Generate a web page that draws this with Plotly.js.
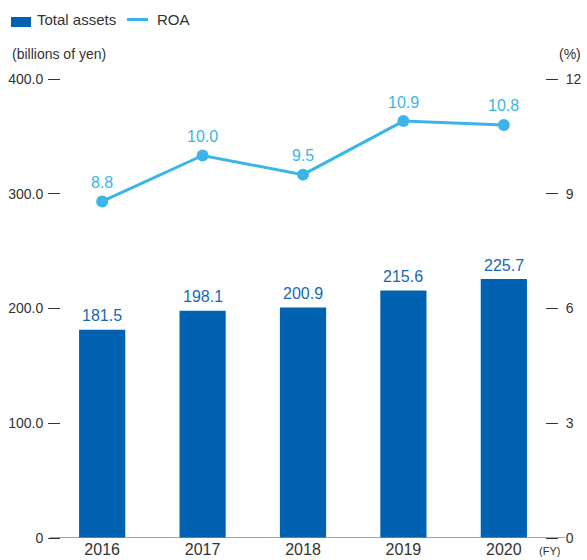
<!DOCTYPE html>
<html><head><meta charset="utf-8">
<script src="https://cdn.plot.ly/plotly-3.0.1.min.js"></script>
<style>body{margin:0;padding:0;background:#fff}#chart{width:587px;height:560px}</style>
</head><body><div id="chart"></div>
<script>
const years = ['2016','2017','2018','2019','2020'];
const totalAssets = [181.5, 198.1, 200.9, 215.6, 225.7];
const roa = [8.8, 10.0, 9.5, 10.9, 10.8];
const leftTicks = [0, 100, 200, 300, 400];
const leftTickText = ['0', '100.0', '200.0', '300.0', '400.0'];
const rightTicks = [0, 3, 6, 9, 12];
const seriesNames = ['Total assets', 'ROA'];

const barColor = '#0062b1';
const lineColor = '#3bb5e8';
const font = 'Liberation Sans, Arial, sans-serif';

const traces = [
  {type:'bar', name:seriesNames[0], x: years, y: totalAssets, marker:{color:barColor}, width:0.46, yaxis:'y', hoverinfo:'none'},
  {type:'scatter', mode:'lines+markers', name:seriesNames[1], x: years, y: roa, yaxis:'y2',
   line:{color:lineColor, width:3}, marker:{color:lineColor, size:12}, hoverinfo:'none'}
];

const annotations = [];
years.forEach((yr,i)=>{
  annotations.push({x:i, y:totalAssets[i], xref:'x', yref:'y', text:totalAssets[i].toFixed(1), showarrow:false,
    yanchor:'middle', yshift:14, font:{family:font,size:16,color:'#1668b5'}});
  annotations.push({x:i, y:roa[i], xref:'x', yref:'y2', text:roa[i].toFixed(1), showarrow:false,
    yanchor:'middle', yshift:19, font:{family:font,size:16,color:lineColor}});
});
// axis unit labels
annotations.push({xref:'paper', yref:'paper', x:-0.1054, y:1.0545, xanchor:'left', yanchor:'middle', text:'(billions of yen)', showarrow:false, font:{family:font,size:14,color:'#333'}});
annotations.push({xref:'paper', yref:'paper', x:1.0785, y:1.0545, xanchor:'right', yanchor:'middle', text:'(%)', showarrow:false, font:{family:font,size:14,color:'#333'}});
annotations.push({xref:'paper', yref:'paper', x:0.9835, y:-0.0283, xanchor:'left', yanchor:'middle', text:'(FY)', showarrow:false, font:{family:font,size:11,color:'#333'}});
// legend text
annotations.push({xref:'paper', yref:'paper', x:-0.0537, y:1.1296, xanchor:'left', yanchor:'middle', text:seriesNames[0], showarrow:false, font:{family:font,size:15,color:'#333'}});
annotations.push({xref:'paper', yref:'paper', x:0.1942, y:1.1296, xanchor:'left', yanchor:'middle', text:seriesNames[1], showarrow:false, font:{family:font,size:15,color:'#333'}});

const layout = {
  width:587, height:560,
  margin:{l:61, r:42, t:79, b:22},
  paper_bgcolor:'#fff', plot_bgcolor:'#fff',
  font:{family:font, size:14, color:'#333'},
  showlegend:false,
  xaxis:{type:'category', range:[-0.41, 4.41], showline:false, showgrid:false, zeroline:false, ticks:'', tickfont:{family:font,size:16,color:'#333'}, fixedrange:true, automargin:false},
  yaxis:{range:[0,400], tickvals:leftTicks, ticktext:leftTickText, showgrid:false, zeroline:false, showline:false, automargin:false,
    ticks:'outside', ticklen:12, tickwidth:1, tickcolor:'#333', tickfont:{family:font,size:14,color:'#333'}, ticklabelstandoff:2},
  yaxis2:{range:[0,12], overlaying:'y', side:'right', tickvals:rightTicks, showgrid:false, zeroline:false, showline:false, automargin:false,
    ticks:'outside', ticklen:12, tickwidth:1, tickcolor:'#333', tickfont:{family:font,size:14,color:'#333'}, ticklabelstandoff:5},
  shapes:[
    {type:'line', xref:'paper', yref:'y', x0:-0.0227, x1:1.0413, y0:0, y1:0, line:{color:'#888', width:1.5}},
    {type:'rect', xref:'paper', yref:'paper', x0:-0.1033, x1:-0.062, y0:1.1133, y1:1.1351, fillcolor:barColor, line:{width:0}},
    {type:'line', xref:'paper', yref:'paper', x0:0.1364, x1:0.1798, y0:1.1296, y1:1.1296, line:{color:lineColor, width:3}}
  ],
  annotations: annotations
};
Plotly.newPlot('chart', traces, layout, {displayModeBar:false, staticPlot:true});
</script></body></html>
